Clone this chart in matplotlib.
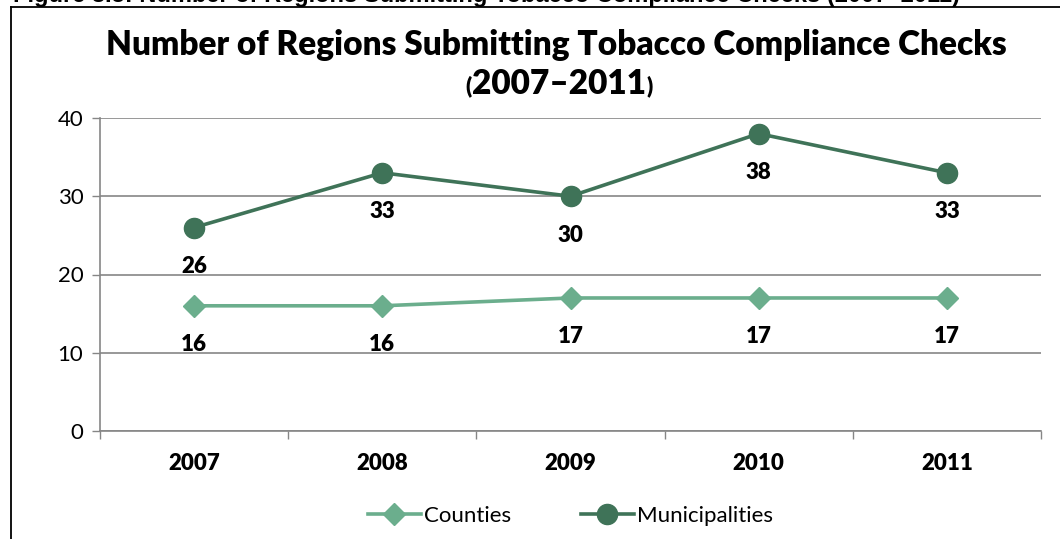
import matplotlib
matplotlib.use('Agg')
import matplotlib.pyplot as plt
from matplotlib.lines import Line2D
from matplotlib.transforms import offset_copy

years = ['2007', '2008', '2009', '2010', '2011']
counties = [16, 16, 17, 17, 17]
municipalities = [26, 33, 30, 38, 33]
y_ticks = [0, 10, 20, 30, 40]

C_COUNTY = '#6BAE8D'
C_MUNI = '#3F7358'
GRID = '#868686'

plt.rcParams['font.family'] = ['Lato', 'DejaVu Sans']

fig = plt.figure(figsize=(10.6, 5.39), dpi=100)
ax = fig.add_axes([100/1060, 1 - 431/539, 941/1060, 313/539])

x = list(range(len(years)))
ax.plot(x, counties, color=C_COUNTY, lw=2.6, marker='D', ms=11,
        label='Counties', zorder=3)
ax.plot(x, municipalities, color=C_MUNI, lw=2.6, marker='o', ms=14.5,
        label='Municipalities', zorder=3)

for series in (counties, municipalities):
    for xi, v in zip(x, series):
        ax.annotate(str(v), (xi, v), xytext=(0, -28), textcoords='offset points',
                    ha='center', va='center', fontsize=16, fontweight='heavy')

ax.set_xlim(-0.5, len(years) - 0.5)
ax.set_ylim(0, 40)
ax.set_yticks(y_ticks)
ax.set_yticklabels([str(t) for t in y_ticks], fontsize=16)
ax.set_xticks(x)
ax.set_xticklabels(years, fontsize=16, fontweight='heavy')
ax.set_xticks([i - 0.5 for i in range(len(years) + 1)], minor=True)
ax.tick_params(axis='x', which='major', length=0, pad=16)
ax.tick_params(axis='x', which='minor', length=6, width=1, color=GRID, direction='out')
ax.tick_params(axis='y', length=6, width=1, color=GRID, direction='out', pad=6)

for s in ['top', 'right']:
    ax.spines[s].set_visible(False)
for s in ['left', 'bottom']:
    ax.spines[s].set_color(GRID)
    ax.spines[s].set_linewidth(1.2)
ax.yaxis.grid(True, color=GRID, lw=1.2)
ax.set_axisbelow(True)

# title (two lines, smaller parentheses on the second)
fig.text(556/1060, 1 - 45/539, 'Number of Regions Submitting Tobacco Compliance Checks',
         ha='center', va='center', fontsize=24, fontweight='heavy')
mid = fig.text(559/1060, 1 - 84/539, '2007\u20132011', ha='center', va='center',
               fontsize=24, fontweight='heavy')
fig.canvas.draw()
bb = mid.get_window_extent().transformed(fig.transFigure.inverted())
fig.text(bb.x0, 1 - 86/539, '(', ha='right', va='center', fontsize=16,
         fontweight='heavy')
fig.text(bb.x1, 1 - 86/539, ')', ha='left', va='center', fontsize=16,
         fontweight='heavy')

ax.legend(loc='center', bbox_to_anchor=(0.5, (516 - 431) / -313),
          ncol=2, frameon=False, fontsize=16, handlelength=2.4,
          handletextpad=0.15, columnspacing=3.1)

# cropped caption above the chart frame
fig.text(13/1060, 1 - 2/539,
         'Figure 8.5: Number of Regions Submitting Tobacco Compliance Checks (2007\u20132011)',
         ha='left', va='baseline', fontsize=17, fontweight='bold',
         family='Liberation Sans')

# chart frame (only top and left edges are inside the picture)
fig.add_artist(Line2D([11/1060, 1.01], [1 - 7/539, 1 - 7/539],
                      transform=fig.transFigure, color='black', lw=1.3))
fig.add_artist(Line2D([11/1060, 11/1060], [-0.01, 1 - 7/539],
                      transform=fig.transFigure, color='black', lw=1.3))

fig.savefig('out.png', dpi=100)
